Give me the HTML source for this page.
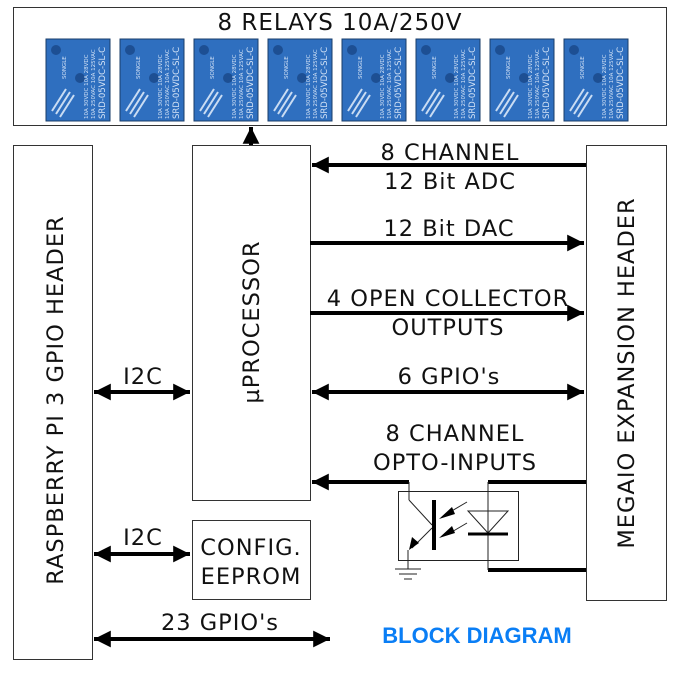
<!DOCTYPE html>
<html><head><meta charset="utf-8"><style>
html,body{margin:0;padding:0;background:#fff;}
svg text.t{font-family:"DejaVu Sans","Liberation Sans",sans-serif;font-size:22.5px;letter-spacing:1px;fill:#111;}
svg text.r{font-family:"DejaVu Sans",sans-serif;fill:#d4e3f6;letter-spacing:0;}
</style></head><body>
<svg width="680" height="671" viewBox="0 0 680 671" xmlns="http://www.w3.org/2000/svg">
<defs>
<marker id="ah" viewBox="0 0 10 10" refX="10" refY="5" markerWidth="4.2" markerHeight="4.2" orient="auto-start-reverse" markerUnits="strokeWidth"><path d="M0,0 L10,5 L0,10 z" fill="#000"/></marker>
<g id="relay">
<rect x="0" y="0" width="64" height="82" fill="#2f6fbf" stroke="#1a3d6a" stroke-width="1"/>
<circle cx="10" cy="11" r="5" fill="#1d4f93"/>
<circle cx="34" cy="39" r="5" fill="#1d4f93"/>
<text class="r" transform="translate(59,80) rotate(-90)" style="font-size:8.5px">SRD-05VDC-SL-C</text>
<text class="r" transform="translate(49,80) rotate(-90)" style="font-size:5.5px">10A 250VAC 10A 125VAC</text>
<text class="r" transform="translate(42,80) rotate(-90)" style="font-size:5.5px">10A 30VDC 10A 28VDC</text>
<text class="r" transform="translate(20,40) rotate(-90)" style="font-size:5.5px">SONGLE</text>
<path d="M6,72 L20,50 M10,75 L24,53 M14,78 L28,56" stroke="#c9dcf3" stroke-width="2"/>
</g>
</defs>
<rect x="13.5" y="7.5" width="653" height="118" fill="none" stroke="#333" stroke-width="1"/>
<text class="t" x="340" y="30" text-anchor="middle" style="font-size:23px">8 RELAYS 10A/250V</text>
<use href="#relay" x="46" y="39"/><use href="#relay" x="120" y="39"/><use href="#relay" x="194" y="39"/><use href="#relay" x="268" y="39"/>
<use href="#relay" x="342" y="39"/><use href="#relay" x="416" y="39"/><use href="#relay" x="490" y="39"/><use href="#relay" x="564" y="39"/>

<rect x="13.5" y="145.5" width="79" height="514" fill="none" stroke="#333"/>
<rect x="192.5" y="145.5" width="118" height="355" fill="none" stroke="#333"/>
<rect x="586.5" y="145.5" width="80" height="455" fill="none" stroke="#333"/>
<rect x="192.5" y="520.5" width="118" height="79" fill="none" stroke="#333"/>

<text class="t" transform="translate(63,400) rotate(-90)" text-anchor="middle">RASPBERRY PI 3 GPIO HEADER</text>
<text class="t" transform="translate(259,322) rotate(-90)" text-anchor="middle">µPROCESSOR</text>
<text class="t" transform="translate(634,373) rotate(-90)" text-anchor="middle">MEGAIO EXPANSION HEADER</text>
<text class="t" x="251" y="555" text-anchor="middle">CONFIG.</text>
<text class="t" x="251" y="584" text-anchor="middle">EEPROM</text>

<g stroke="#000" stroke-width="4" fill="none">
<line x1="251" y1="145" x2="251" y2="127" marker-end="url(#ah)"/>
<line x1="586" y1="165" x2="312" y2="165" marker-end="url(#ah)"/>
<line x1="310" y1="243" x2="584" y2="243" marker-end="url(#ah)"/>
<line x1="310" y1="313" x2="584" y2="313" marker-end="url(#ah)"/>
<line x1="312" y1="392" x2="584" y2="392" marker-start="url(#ah)" marker-end="url(#ah)"/>
<line x1="409" y1="482" x2="312" y2="482" marker-end="url(#ah)"/>
<line x1="488" y1="482" x2="586" y2="482"/>
<line x1="488" y1="570" x2="586" y2="570"/>
<line x1="94" y1="392" x2="190" y2="392" marker-start="url(#ah)" marker-end="url(#ah)"/>
<line x1="94" y1="554" x2="190" y2="554" marker-start="url(#ah)" marker-end="url(#ah)"/>
<line x1="94" y1="639" x2="330" y2="639" marker-start="url(#ah)" marker-end="url(#ah)"/>
</g>

<text class="t" x="450" y="160" text-anchor="middle">8 CHANNEL</text>
<text class="t" x="450" y="189" text-anchor="middle">12 Bit ADC</text>
<text class="t" x="449" y="236" text-anchor="middle">12 Bit DAC</text>
<text class="t" x="448" y="306" text-anchor="middle">4 OPEN COLLECTOR</text>
<text class="t" x="448" y="335" text-anchor="middle">OUTPUTS</text>
<text class="t" x="449" y="384" text-anchor="middle">6 GPIO's</text>
<text class="t" x="455" y="441" text-anchor="middle">8 CHANNEL</text>
<text class="t" x="455" y="470" text-anchor="middle">OPTO-INPUTS</text>
<text class="t" x="143" y="384" text-anchor="middle">I2C</text>
<text class="t" x="143" y="545" text-anchor="middle">I2C</text>
<text class="t" x="220" y="630" text-anchor="middle">23 GPIO's</text>

<g stroke="#222" fill="none" stroke-width="1">
<rect x="398.5" y="491.5" width="120" height="69"/>
<line x1="409" y1="482" x2="409" y2="500"/>
<line x1="409" y1="500" x2="432" y2="525"/>
<line x1="432" y1="528" x2="412" y2="548"/>
<line x1="408" y1="550" x2="408" y2="569"/>
<line x1="488" y1="482" x2="488" y2="570"/>
<path d="M468,511 L508,511 L488,533 z"/>
<line x1="467" y1="502" x2="450" y2="512"/>
<line x1="467" y1="523" x2="450" y2="533"/>
<line x1="395" y1="569" x2="421" y2="569"/>
<line x1="399" y1="574" x2="417" y2="574"/>
<line x1="404" y1="579" x2="412" y2="579"/>
</g>
<line x1="434" y1="500" x2="434" y2="550" stroke="#000" stroke-width="4"/>
<line x1="468" y1="534" x2="508" y2="534" stroke="#000" stroke-width="3"/>
<path d="M439,519 L452,507 L455,514 z M439,538 L452,526 L455,533 z M409,550 L412,537 L419,543 z" fill="#000"/>

<text x="477" y="643" text-anchor="middle" style="font-family:'Liberation Sans',sans-serif;font-weight:bold;font-size:22px;fill:#0a7ef5">BLOCK DIAGRAM</text>
</svg>
</body></html>
